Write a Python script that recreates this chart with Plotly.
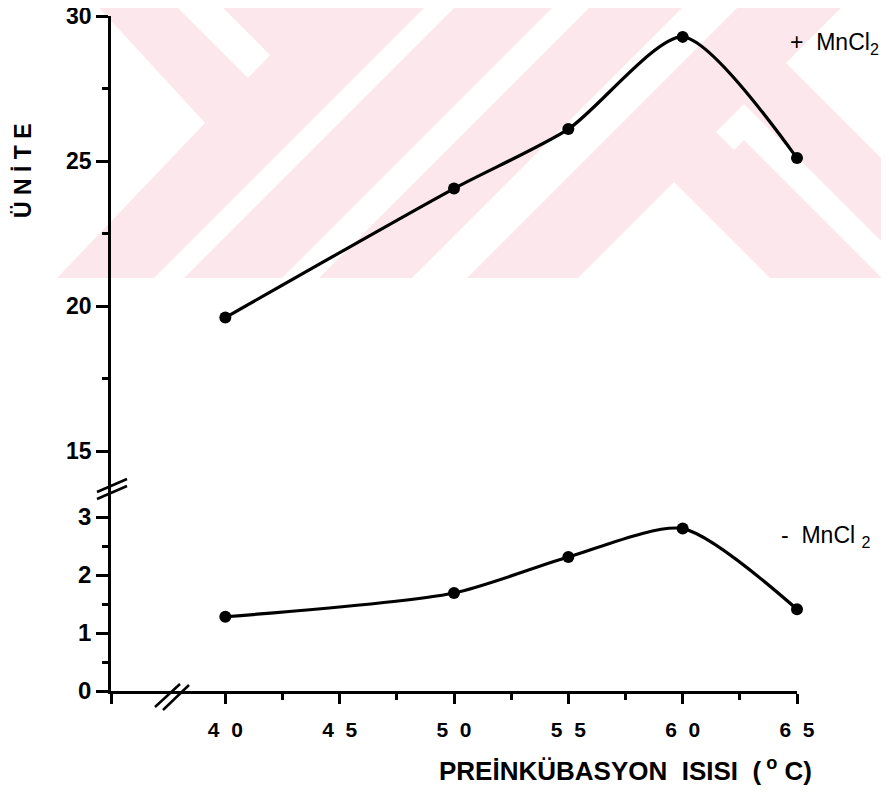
import plotly.graph_objects as go

# ---------------- data ----------------
temps = [40, 50, 55, 60, 65]
with_mncl2 = [19.6, 24.05, 26.1, 29.28, 25.1]
without_mncl2 = [1.28, 1.69, 2.31, 2.80, 1.41]

x_tickvals = [35, 40, 45, 50, 55, 60, 65]
x_ticktext = ["", "4\u00a0\u00a00", "4\u00a0\u00a05", "5\u00a0\u00a00",
              "5\u00a0\u00a05", "6\u00a0\u00a00", "6\u00a0\u00a05"]
x_minor = [42.5, 47.5, 52.5, 57.5, 62.5]
y_low_ticks = [0, 1, 2, 3]
y_low_minor = [0.5, 1.5, 2.5]
y_up_ticks = [15, 20, 25, 30]
y_up_minor = [17.5, 22.5, 27.5]

# ---------------- geometry helpers ----------------
OFF = 8                      # page body margin of the browser
W, H = 889 - OFF, 794 - OFF
L, T = 111 - OFF, 16 - OFF
PW, PH = 686, 675
R, B = W - L - PW, H - T - PH
BREAK_PX = 484               # window pixel row where the y axis is broken
BOTTOM_PX = 691              # window pixel row of the x axis


def px(xp):
    return (xp - 111) / PW


def py(yp):
    return (BOTTOM_PX - yp) / PH


split = py(BREAK_PX)

# watermark polygons (window pixel coordinates of the pale background logo)
pink_rect = [(0, 0), (889, 0), (889, 278), (0, 278)]
white_polys = [
    [(0, 0), (92, 0), (205, 123), (57, 278), (0, 278)],
    [(170, 0), (215, 0), (270, 55), (248, 78)],
    [(432, 0), (462, 0), (184, 278), (154, 278)],
    [(560, 0), (597, 0), (319, 278), (282, 278)],
    [(690, 0), (745, 0), (467, 278), (412, 278)],
    [(849, 0), (889, 0), (889, 166), (786, 63)],
    [(716, 132), (744, 104), (889, 249), (889, 285), (744, 140), (734, 150)],
    [(674, 182), (770, 278), (578, 278)],
]


def poly_path(pts):
    return "M " + " L ".join(f"{px(a):.5f},{py(b):.5f}" for a, b in pts) + " Z"


shapes = [dict(type="path", path=poly_path(pink_rect), xref="paper", yref="paper",
               fillcolor="#fce8ec", line=dict(width=0), layer="below")]
for p in white_polys:
    shapes.append(dict(type="path", path=poly_path(p), xref="paper", yref="paper",
                       fillcolor="white", line=dict(width=0), layer="below"))

# axis break marks
breaks = [
    ((97, 492), (127, 479)),
    ((97, 499), (127, 486)),
    ((155, 707), (180, 684)),
    ((163, 710), (189, 685)),
]
for (x0, y0), (x1, y1) in breaks:
    shapes.append(dict(type="line", xref="paper", yref="paper",
                       x0=px(x0), y0=py(y0), x1=px(x1), y1=py(y1),
                       line=dict(color="black", width=2.5)))

FONT = "Liberation Sans, Arial, Helvetica, sans-serif"

fig = go.Figure()
fig.add_trace(go.Scatter(x=temps, y=with_mncl2, xaxis="x", yaxis="y2",
                         mode="lines+markers", cliponaxis=False,
                         line=dict(color="black", width=3.2, shape="spline", smoothing=0.7),
                         marker=dict(color="black", size=12), showlegend=False))
fig.add_trace(go.Scatter(x=temps, y=without_mncl2, xaxis="x", yaxis="y",
                         mode="lines+markers", cliponaxis=False,
                         line=dict(color="black", width=3.2, shape="spline", smoothing=0.7),
                         marker=dict(color="black", size=12), showlegend=False))

axis_common = dict(showline=True, linecolor="black", linewidth=2.5, showgrid=False,
                   zeroline=False, ticks="outside", tickcolor="black", tickwidth=2.5,
                   automargin=False, ticklabeloverflow="allow")

fig.update_layout(
    template="none",
    width=W, height=H,
    margin=dict(l=L, r=R, t=T, b=B, autoexpand=False),
    paper_bgcolor="white",
    plot_bgcolor="rgba(0,0,0,0)",
    font=dict(family=FONT, color="black"),
    xaxis=dict(domain=[0, 1], anchor="y", range=[35, 65],
               tickvals=x_tickvals, ticktext=x_ticktext, ticklen=10,
               tickfont=dict(size=21, weight="bold"), ticklabelstandoff=8,
               minor=dict(tickvals=x_minor, ticklen=6, ticks="outside",
                          tickcolor="black", tickwidth=2.5),
               **axis_common),
    yaxis=dict(domain=[0, split], anchor="x", range=[0, (BOTTOM_PX - BREAK_PX) / 58.0],
               tickvals=y_low_ticks, ticklen=12,
               tickfont=dict(size=24, weight="bold"),
               minor=dict(tickvals=y_low_minor, ticklen=6, ticks="outside",
                          tickcolor="black", tickwidth=2.5),
               **axis_common),
    yaxis2=dict(domain=[split, 1], anchor="x", range=[15 - (BREAK_PX - 451) / 29.0, 30],
                tickvals=y_up_ticks, ticklen=12,
                tickfont=dict(size=23, weight="bold"),
                minor=dict(tickvals=y_up_minor, ticklen=6, ticks="outside",
                           tickcolor="black", tickwidth=2.5),
                **axis_common),
    shapes=shapes,
    annotations=[
        dict(text="Ü N İ T E", x=px(23), y=py(171), xref="paper", yref="paper",
             xanchor="center", yanchor="middle",
             textangle=-90, showarrow=False, font=dict(size=23, weight="bold")),
        dict(text="PREİNKÜBASYON  ISISI  (<sup> o</sup> C)", x=px(625), y=py(788),
             xref="paper", yref="paper", xanchor="center", yanchor="bottom",
             showarrow=False, font=dict(size=26, weight="bold")),
        dict(text="+  MnCl<sub>2</sub>", x=px(788), y=py(44), xref="paper", yref="paper",
             xanchor="left", yanchor="middle", showarrow=False, font=dict(size=23)),
        dict(text="-  MnCl <sub>2</sub>", x=px(779), y=py(536), xref="paper", yref="paper",
             xanchor="left", yanchor="middle", showarrow=False, font=dict(size=23)),
    ],
)

fig.write_html("out.html")
